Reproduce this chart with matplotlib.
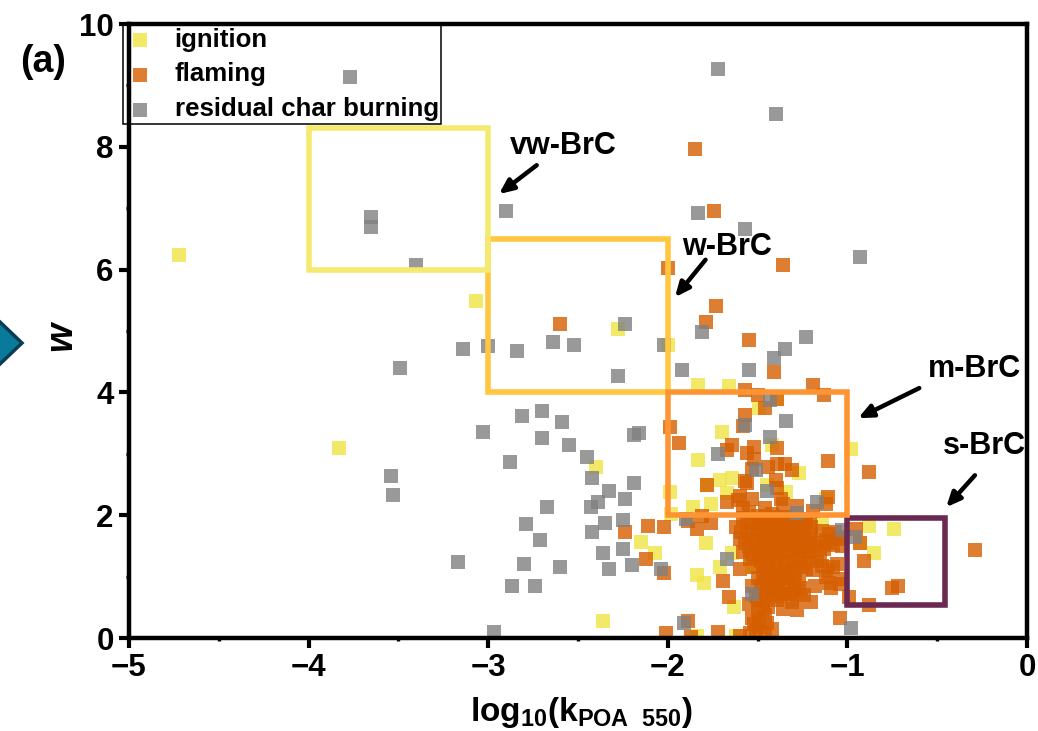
import matplotlib
matplotlib.use('Agg')
import matplotlib.pyplot as plt
from matplotlib.patches import Rectangle, Polygon

plt.rcParams['font.family'] = ['Liberation Sans', 'DejaVu Sans']
plt.rcParams['font.weight'] = 'bold'
plt.rcParams['mathtext.fontset'] = 'custom'
plt.rcParams['mathtext.bf'] = 'Liberation Sans:bold'
plt.rcParams['mathtext.rm'] = 'Liberation Sans:bold'
plt.rcParams['mathtext.it'] = 'Liberation Sans:bold:italic'

ignition = [(-4.72,6.23),(-3.83,3.10),(-3.07,5.49),(-2.40,2.79),(-2.36,0.28),(-2.15,1.57),(-2.28,5.03),(-2.0,4.78),
 (-1.83,4.12),(-1.66,4.10),(-1.49,3.75),(-1.39,3.89),(-1.70,3.36),(-1.42,3.14),(-0.98,3.08),(-1.83,2.90),(-1.27,2.69),
 (-1.71,2.58),(-1.64,2.60),(-1.78,2.49),(-1.99,2.37),(-1.67,2.36),(-1.76,2.18),(-1.86,2.14),(-1.98,2.02),(-1.14,1.86),
 (-0.88,1.83),(-0.74,1.77),(-0.85,1.38),(-0.93,1.55),(-1.79,1.55),(-2.07,1.39),(-1.71,1.16),(-1.84,1.03),(-1.80,0.90),
 (-1.63,0.51),(-1.84,0.03),(-1.62,0.04),(-1.53,1.15),(-1.34,2.37),(-1.45,2.50),(-1.12,2.26),(-1.64,1.39)]

flaming = [(-1.85,7.97),(-1.74,6.95),(-2.0,6.02),(-1.36,6.07),(-1.73,5.40),(-1.79,5.14),(-2.60,5.11),(-1.55,4.85),
 (-1.41,4.34),(-1.57,4.04),(-1.19,4.12),(-1.13,3.95),(-1.50,3.95),(-1.39,3.90),(-1.46,3.75),(-1.57,3.64),
 (-1.58,3.45),(-1.99,3.44),(-1.94,3.17),(-1.64,3.15),(-1.67,3.06),(-1.52,3.11),(-1.56,3.02),(-1.52,2.91),(-1.39,3.10),
 (-1.11,2.89),(-0.88,2.71),(-1.44,2.79),(-1.39,2.83),(-1.35,2.83),(-1.31,2.73),(-1.53,2.76),(-1.78,2.50),(-1.57,2.56),
 (-1.56,2.53),(-1.40,2.58),(-1.39,2.45),(-1.60,2.31),(-1.67,2.22),(-1.53,2.26),(-1.61,2.25),(-1.37,2.26),(-1.11,2.30),
 (-1.12,2.18),(-1.46,2.12),(-1.36,2.18),(-1.28,2.15),(-1.19,2.07),(-1.81,1.98),(-1.89,1.91),(-1.76,1.88),(-1.84,1.78),
 (-2.02,1.80),(-2.11,1.83),(-2.24,1.73),(-2.12,1.28),(-2.02,1.06),(-1.69,0.93),(-1.60,1.13),(-1.66,0.67),(-1.89,0.28),
 (-2.01,0.08),(-1.87,0.02),(-1.72,0.10),(-1.60,0.03),(-1.54,0.08),(-1.46,0.06),(-1.42,0.15),(-1.52,0.22),(-1.04,0.33),
 (-0.88,0.54),(-0.99,0.66),(-0.75,0.82),(-0.72,0.85),(-0.91,1.26),(-0.93,1.55),(-0.95,1.77),(-0.29,1.44),
 # dense core
 (-1.62,1.80),(-1.60,1.62),(-1.58,1.95),(-1.56,1.72),(-1.55,1.50),(-1.54,1.88),(-1.53,1.36),(-1.52,1.62),(-1.50,1.98),
 (-1.50,1.78),(-1.49,1.45),(-1.48,1.25),(-1.47,1.68),(-1.46,1.90),(-1.45,1.55),(-1.44,1.08),(-1.43,1.32),(-1.42,1.75),
 (-1.41,1.97),(-1.40,1.48),(-1.39,1.18),(-1.38,1.63),(-1.37,1.85),(-1.36,1.38),(-1.35,1.02),(-1.34,1.72),(-1.33,1.95),
 (-1.32,1.52),(-1.31,1.25),(-1.30,1.82),(-1.29,1.60),(-1.28,1.40),(-1.27,1.94),(-1.26,1.15),(-1.25,1.70),(-1.24,1.50),
 (-1.23,1.88),(-1.22,1.30),(-1.21,1.62),(-1.20,1.80),(-1.58,1.40),(-1.52,1.15),(-1.47,1.02),(-1.45,1.72),(-1.41,1.60),
 (-1.38,1.42),(-1.33,1.18),(-1.29,1.05),(-1.46,0.92),(-1.42,0.82),(-1.38,0.95),(-1.34,0.85),(-1.30,0.78),(-1.27,0.90),
 (-1.50,0.98),(-1.53,0.85),(-1.43,0.70),(-1.39,0.62),(-1.35,0.72),(-1.31,0.58),(-1.24,0.70),(-1.20,0.58),(-1.47,0.60),
 (-1.51,0.68),(-1.55,0.55),(-1.50,0.45),(-1.46,0.38),(-1.53,0.32),(-1.49,0.28),(-1.44,0.50),(-1.36,0.48),(-1.28,0.45),
 (-1.19,1.10),(-1.15,1.32),(-1.12,1.00),(-1.18,0.85),(-1.10,0.90),(-1.16,1.55),(-1.12,1.60),(-1.08,1.52),(-1.05,1.65),
 (-1.10,1.70),(-1.14,1.75),(-1.03,1.50),(-1.06,1.20),(-1.08,1.15),(-1.04,0.88),(-1.03,0.96),(-1.18,1.50),(-1.25,1.92),
 (-1.48,1.85),(-1.42,2.02),(-1.35,1.97),(-1.55,2.05),(-1.58,2.12),(-1.30,1.75),
 # further overlap inside the solid part of the cloud
 (-1.59,1.72),(-1.57,1.55),(-1.56,1.90),(-1.54,1.28),(-1.53,1.72),(-1.51,1.48),(-1.50,1.33),(-1.49,1.88),(-1.48,1.58),
 (-1.47,1.40),(-1.46,1.16),(-1.45,1.82),(-1.44,1.24),(-1.43,1.62),(-1.42,1.44),(-1.41,1.86),(-1.40,1.28),(-1.39,1.72),
 (-1.38,1.08),(-1.37,1.52),(-1.36,1.75),(-1.35,1.25),(-1.34,1.58),(-1.33,1.40),(-1.32,1.85),(-1.31,1.68),(-1.30,1.12),
 (-1.29,1.45),(-1.28,1.78),(-1.27,1.28),(-1.26,1.60),(-1.25,1.40),(-1.24,1.82),(-1.23,1.12),(-1.22,1.55),(-1.21,1.42),
 (-1.20,1.68),(-1.21,1.90),(-1.24,1.22),(-1.45,0.82),(-1.43,0.98),(-1.40,0.75),(-1.39,0.90),(-1.37,0.68),(-1.36,1.00),
 (-1.33,0.96),(-1.32,0.72),(-1.30,0.92),(-1.28,0.68),(-1.26,0.82),(-1.46,0.72),(-1.41,1.05),(-1.48,0.80),(-1.50,0.62),
 (-1.47,0.48),(-1.49,0.18),(-1.45,0.25),(-1.51,0.12),(-1.13,1.45),(-1.10,1.55),(-1.07,1.72),(-1.04,1.62),(-1.14,1.18),
 (-1.11,1.10),(-1.17,1.25),(-1.09,0.82)]

residual = [(-3.77,9.13),(-1.72,9.26),(-1.40,8.53),(-2.90,6.96),(-1.83,6.92),(-1.57,6.66),(-0.93,6.20),(-3.65,6.85),
 (-3.65,6.70),(-3.40,6.07),(-2.24,5.11),(-2.64,4.82),(-2.52,4.78),(-2.84,4.67),(-3.00,4.76),(-2.02,4.77),(-2.28,4.26),
 (-1.81,4.99),(-1.23,4.90),(-1.35,4.70),(-1.41,4.56),(-1.55,4.36),(-1.92,4.36),(-3.14,4.71),(-3.49,4.39),(-2.81,3.62),
 (-2.70,3.69),(-2.59,3.52),(-3.03,3.36),(-2.70,3.25),(-2.55,3.15),(-2.45,2.94),(-2.88,2.87),(-3.54,2.64),(-3.53,2.33),
 (-2.42,2.61),(-2.33,2.40),(-2.39,2.22),(-2.43,2.14),(-2.24,2.26),(-2.67,2.14),(-2.25,1.92),(-2.35,1.88),(-2.79,1.85),
 (-2.42,1.73),(-2.71,1.59),(-2.25,1.45),(-2.36,1.39),(-2.20,1.19),(-2.33,1.13),(-2.60,1.15),(-2.80,1.21),(-3.17,1.24),
 (-2.87,0.84),(-2.74,0.85),(-2.97,0.09),(-2.19,2.53),(-2.19,3.30),(-2.16,3.34),(-1.43,3.88),(-1.34,3.54),(-1.57,3.47),
 (-1.43,3.28),(-1.72,2.99),(-1.51,2.73),(-1.45,2.40),(-1.17,2.22),(-1.28,2.03),(-1.90,1.93),(-1.03,1.76),(-0.96,1.65),
 (-1.67,1.28),(-2.04,1.13),(-1.53,0.72),(-1.91,0.25),(-0.98,0.17)]

series_names = ['ignition', 'flaming', 'residual char burning']
series_colors = ['#F0E442', '#D55E00', '#808080']
series_data = [ignition, flaming, residual]

box_x = [-3, -1, -2, -4]
box_w = [1, 0.544, 1, 1]
box_y = [4, 0.53, 2, 6]
box_h = [2.5, 1.43, 2, 2.3]
box_colors = ['#FFC640', '#6B2850', '#FF9433', '#F5EA70']

labels = ['vw-BrC', 'w-BrC', 'm-BrC', 's-BrC']
label_xy = [(-2.88, 8.02), (-1.92, 6.37), (-0.55, 4.38), (-0.47, 3.12)]
arrow_from = [(-2.73, 7.70), (-1.79, 6.16), (-0.60, 4.07), (-0.29, 2.65)]
arrow_to = [(-2.94, 7.23), (-1.96, 5.55), (-0.94, 3.58), (-0.45, 2.13)]

W, H = 1038, 731
fig = plt.figure(figsize=(W/100, H/100), dpi=100)
ax = fig.add_axes([129/W, 1-638/H, (1027-129)/W, (638-24)/H])

for name, col, pts in zip(series_names, series_colors, series_data):
    ax.scatter([p[0] for p in pts], [p[1] for p in pts], s=88, marker='s', c=col, alpha=0.8,
               linewidths=0, label=name, clip_on=True, zorder=2)

for x, y, w, h, c in zip(box_x, box_y, box_w, box_h, box_colors):
    ax.add_patch(Rectangle((x, y), w, h, fill=False, edgecolor=c, linewidth=4, joinstyle='miter', zorder=3))

ax.set_xlim(-5, 0)
ax.set_ylim(0, 10)
ax.set_xticks([-5, -4, -3, -2, -1, 0])
ax.set_xticklabels(['\u22125', '\u22124', '\u22123', '\u22122', '\u22121', '0'])
ax.set_yticks([0, 2, 4, 6, 8, 10])
ax.set_xticks([-4.5, -3.5, -2.5, -1.5, -0.5], minor=True)
ax.set_yticks([1, 3, 5, 7, 9], minor=True)
ax.tick_params(which='major', direction='out', length=7, width=3, labelsize=22.5, pad=4)
ax.tick_params(which='minor', direction='out', length=2.5, width=2.4)
for s in ax.spines.values():
    s.set_linewidth(3.2)

for lab, xy, a, b in zip(labels, label_xy, arrow_from, arrow_to):
    ax.text(xy[0], xy[1], lab, fontsize=22, fontweight='bold', ha='left', va='center', zorder=6)
    ax.annotate('', xy=b, xytext=a, zorder=6,
                arrowprops=dict(arrowstyle='-|>,head_length=0.85,head_width=0.38', lw=3.2, color='black',
                                shrinkA=0, shrinkB=0))

leg = ax.legend(loc='upper left', bbox_to_anchor=(123/W, 1-25/H), bbox_transform=fig.transFigure,
                fontsize=18.6, frameon=True, fancybox=False, borderaxespad=0, borderpad=0.1,
                labelspacing=0.42, handletextpad=0.75, handlelength=1.15, scatterpoints=1)
frame = leg.get_frame()
frame.set_facecolor('none')
frame.set_edgecolor('black')
frame.set_alpha(None)
frame.set_linewidth(1.1)

fig.text(20/W, 1-62/H, '(a)', fontsize=27, fontweight='bold', ha='left', va='center')
fig.text(61/W, 1-336/H, 'w', fontsize=27, fontweight='bold', style='italic', rotation=90, ha='center', va='center')
fig.text(581/W, 1-712/H, r'$\mathbf{log_{10}(k_{POA\ \ 550})}$', fontsize=24, ha='center', va='center')

# decorative diamond cut by the left edge of the picture
fig.add_artist(Polygon([(-21/W, 1-343/H), (0, 1-322/H), (22/W, 1-343/H), (0, 1-364/H)], closed=True,
                       facecolor='#0A7A9A', edgecolor='#0B3C55', linewidth=2.5, transform=fig.transFigure))

fig.savefig('out.png', dpi=100)
